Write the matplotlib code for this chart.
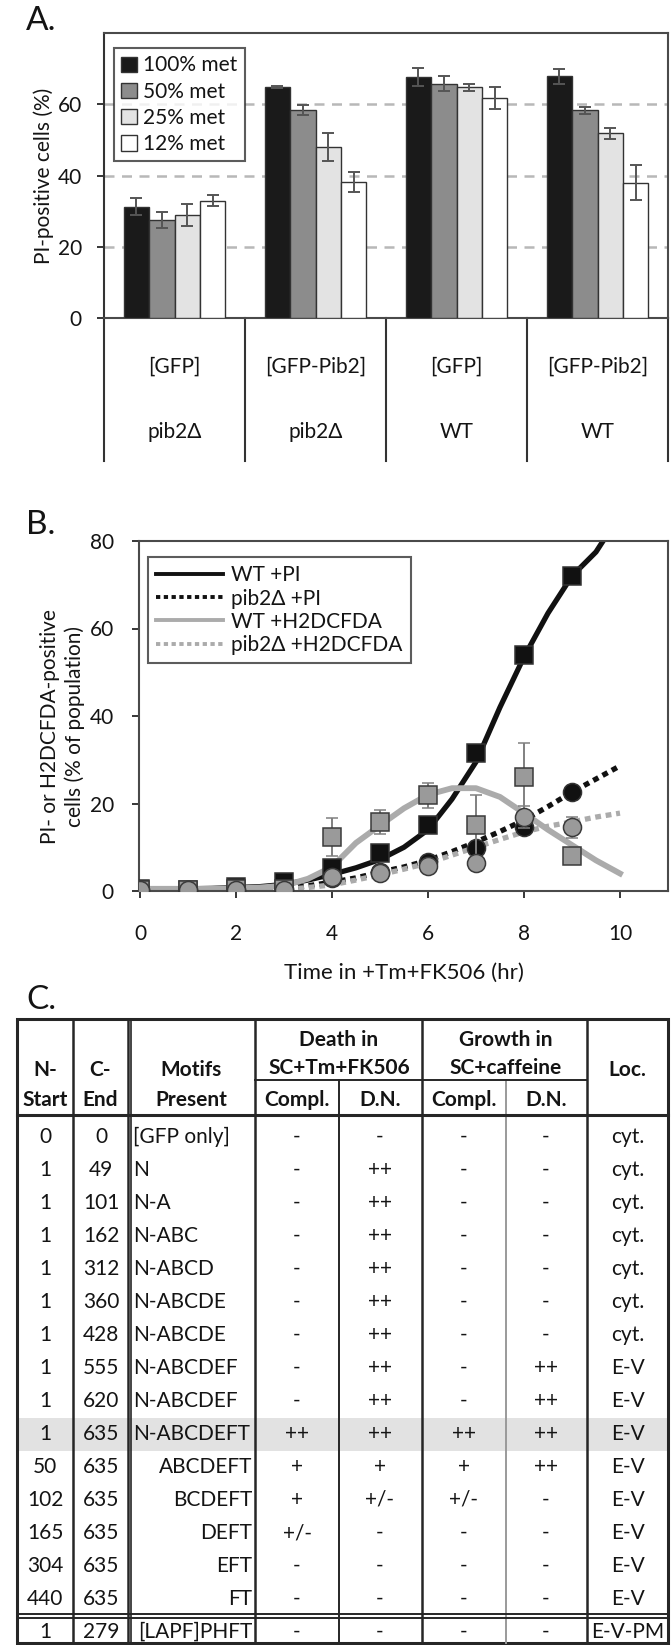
import matplotlib
matplotlib.use('Agg')
import matplotlib.pyplot as plt
from matplotlib.patches import Rectangle
import numpy as np

plt.rcParams['font.family'] = ['Lato', 'DejaVu Sans']
plt.rcParams['text.color'] = '#141414'

# ---------------- data: panel A ----------------
plasmids = ['[GFP]', '[GFP-Pib2]', '[GFP]', '[GFP-Pib2]']
genotypes = ['pib2Δ', 'pib2Δ', 'WT', 'WT']
met_labels = ['100% met', '50% met', '25% met', '12% met']
met100 = [31.2, 64.8, 67.6, 67.8]
met100_err = [2.4, 0.3, 2.6, 2.2]
met50 = [27.5, 58.3, 65.8, 58.3]
met50_err = [2.2, 1.4, 2.0, 0.9]
met25 = [28.9, 48.0, 64.8, 51.8]
met25_err = [3.1, 3.8, 1.0, 1.6]
met12 = [32.9, 38.2, 61.8, 38.0]
met12_err = [1.6, 2.7, 3.0, 4.9]
a_yticks = [0, 20, 40, 60]

# ---------------- data: panel B ----------------
time_h = [0, 1, 2, 3, 4, 5, 6, 7, 8, 9]
wt_pi = [0.5, 0.3, 1.0, 2.0, 5.2, 8.7, 15.0, 31.5, 54.0, 72.0]
wt_pi_err = [0.3, 0.3, 0.4, 0.5, 0.8, 1.0, 1.2, 1.5, 1.5, 1.5]
pib2_pi = [0.2, 0.2, 0.3, 0.4, 3.0, 4.4, 6.6, 9.8, 14.6, 22.6]
pib2_pi_err = [0.2, 0.2, 0.2, 0.3, 0.6, 0.8, 1.0, 1.2, 1.5, 1.5]
wt_h2 = [0.3, 0.3, 0.5, 0.5, 12.3, 15.8, 21.9, 15.0, 26.0, 8.0]
wt_h2_err = [0.3, 0.3, 0.3, 0.5, 4.3, 2.7, 2.9, 7.0, 7.8, 1.0]
pib2_h2 = [0.2, 0.2, 0.2, 0.3, 3.2, 4.1, 5.7, 6.4, 17.0, 14.6]
pib2_h2_err = [0.2, 0.2, 0.2, 0.2, 0.8, 0.8, 1.0, 1.0, 2.5, 2.4]

# fitted curves (every 0.5 h)
curve_x = [0, 0.5, 1, 1.5, 2, 2.5, 3, 3.5, 4, 4.5, 5, 5.5, 6, 6.5, 7, 7.5, 8, 8.5, 9, 9.5, 10]
wt_pi_fit = [0.5, 0.5, 0.5, 0.6, 0.8, 1.0, 1.5, 2.5, 3.8, 5.3, 7.2, 10.0, 14.0, 21.0, 29.5, 42.0,
             53.5, 63.5, 72.0, 77.5, 86.0]
pib2_pi_fit = [0.3, 0.3, 0.3, 0.3, 0.3, 0.3, 0.5, 1.2, 2.0, 3.0, 4.3, 5.5, 7.0, 9.0, 11.2, 13.6,
               16.2, 19.3, 22.6, 25.6, 28.6]
wt_h2_fit = [0.5, 0.5, 0.5, 0.5, 0.6, 0.8, 1.2, 2.8, 5.5, 11.0, 15.0, 18.9, 22.0, 23.5, 23.5, 21.5,
             17.8, 14.0, 10.5, 7.0, 4.0]
pib2_h2_fit = [0.2, 0.2, 0.2, 0.2, 0.2, 0.2, 0.3, 0.8, 1.4, 2.5, 3.7, 5.0, 6.4, 8.2, 10.0, 11.8,
               13.5, 14.8, 15.8, 16.9, 17.8]
b_xticks = [0, 2, 4, 6, 8, 10]
b_yticks = [0, 20, 40, 60, 80]
b_labels = ['WT +PI', 'pib2Δ +PI', 'WT +H2DCFDA', 'pib2Δ +H2DCFDA']

# ---------------- data: panel C ----------------
n_start = [0, 1, 1, 1, 1, 1, 1, 1, 1, 1, 50, 102, 165, 304, 440, 1]
c_end = [0, 49, 101, 162, 312, 360, 428, 555, 620, 635, 635, 635, 635, 635, 635, 279]
motifs = ['[GFP only]', 'N', 'N-A', 'N-ABC', 'N-ABCD', 'N-ABCDE', 'N-ABCDE', 'N-ABCDEF',
          'N-ABCDEF', 'N-ABCDEFT', 'ABCDEFT', 'BCDEFT', 'DEFT', 'EFT', 'FT', '[LAPF]PHFT']
death_compl = ['-', '-', '-', '-', '-', '-', '-', '-', '-', '++', '+', '+', '+/-', '-', '-', '-']
death_dn = ['-', '++', '++', '++', '++', '++', '++', '++', '++', '++', '+', '+/-', '-', '-', '-', '-']
growth_compl = ['-', '-', '-', '-', '-', '-', '-', '-', '-', '++', '+', '+/-', '-', '-', '-', '-']
growth_dn = ['-', '-', '-', '-', '-', '-', '-', '++', '++', '++', '++', '-', '-', '-', '-', '-']
loc = ['cyt.'] * 7 + ['E-V'] * 8 + ['E-V-PM']
highlight_row = 9

# ---------------- figure ----------------
W, H = 672, 1645
DPI = 100
fig = plt.figure(figsize=(W / DPI, H / DPI), dpi=DPI)
fig.patch.set_facecolor('white')


def rect(l, t, r, b):
    return [l / W, 1 - b / H, (r - l) / W, (b - t) / H]


FS = 15
TXT = '#141414'
SPINE = '#4a4a4a'

# ================= Panel A =================
axA = fig.add_axes(rect(104, 33, 668, 318))
n = len(plasmids)
centers = np.arange(n) + 0.5
bw = 0.18
series = [met100, met50, met25, met12]
errs = [met100_err, met50_err, met25_err, met12_err]
colors = ['#1a1a1a', '#8c8c8c', '#e3e3e3', '#ffffff']
for k in range(4):
    axA.bar(centers + (k - 1.5) * bw, series[k], bw, color=colors[k], edgecolor='#333333',
            linewidth=1.0, label=met_labels[k], zorder=3, yerr=errs[k],
            error_kw=dict(ecolor='#555555', elinewidth=1.4, capsize=4, capthick=1.4, zorder=4))
axA.set_xlim(0, n)
axA.set_ylim(0, 80)
axA.set_yticks(a_yticks)
axA.set_xticks([])
axA.grid(axis='y', color='#b8b8b8', lw=1.8, ls=(0, (4, 3)), zorder=1)
axA.tick_params(axis='y', length=5, width=1.2, pad=11, labelsize=FS, colors=TXT)
for s in axA.spines.values():
    s.set_color(SPINE)
    s.set_linewidth(1.5)
axA.spines['left'].set_color('#333333')
axA.text(-0.107, 0.5, 'PI-positive cells (%)', transform=axA.transAxes, rotation=90,
         ha='center', va='center', fontsize=FS, color=TXT)
legA = axA.legend(loc='upper left', bbox_to_anchor=(0.018, 0.947), fontsize=FS, frameon=True,
                  fancybox=False, edgecolor='#333333', handlelength=0.75, handleheight=0.75,
                  handletextpad=0.3, labelspacing=0.3, borderpad=0.35, borderaxespad=0)
legA.get_frame().set_linewidth(1.5)

# category table under panel A
xtr = axA.get_xaxis_transform()
for i in range(n + 1):
    axA.plot([i, i], [0, -0.5], transform=xtr, color='#333333', lw=1.5, clip_on=False)
for i in range(n):
    axA.text(centers[i], -0.17, plasmids[i], transform=xtr, ha='center', va='center',
             fontsize=FS, color=TXT, clip_on=False)
    axA.text(centers[i], -0.40, genotypes[i], transform=xtr, ha='center', va='center',
             fontsize=FS, color=TXT, clip_on=False)

# ================= Panel B =================
axB = fig.add_axes(rect(139, 541, 668, 891))
axB.set_xlim(-0.02, 11)
axB.set_ylim(0, 80)
l1, = axB.plot(curve_x, wt_pi_fit, color='#111111', lw=3.8, zorder=2)
l2, = axB.plot(curve_x, pib2_pi_fit, color='#111111', lw=3.8, ls=(0, (1.1, 0.9)), zorder=2)
l3, = axB.plot(curve_x, wt_h2_fit, color='#ababab', lw=4.2, zorder=2)
l4, = axB.plot(curve_x, pib2_h2_fit, color='#ababab', lw=3.8, ls=(0, (1.1, 0.9)), zorder=2)

mk = dict(markersize=13, markeredgewidth=1.1, capsize=4, elinewidth=1.4, capthick=1.4, ls='none')
axB.errorbar(time_h, wt_pi, yerr=wt_pi_err, fmt='s', color='#111111', mfc='#111111',
             mec='#333333', ecolor='#111111', zorder=3, **mk)
axB.errorbar(time_h, pib2_pi, yerr=pib2_pi_err, fmt='o', color='#111111', mfc='#111111',
             mec='#333333', ecolor='#111111', zorder=3, **mk)
axB.errorbar(time_h, wt_h2, yerr=wt_h2_err, fmt='s', color='#999999', mfc='#9a9a9a',
             mec='#3a3a3a', ecolor='#808080', zorder=4, **mk)
axB.errorbar(time_h, pib2_h2, yerr=pib2_h2_err, fmt='o', color='#999999', mfc='#9a9a9a',
             mec='#3a3a3a', ecolor='#808080', zorder=4, **mk)

axB.set_xticks(b_xticks)
axB.set_yticks(b_yticks)
axB.tick_params(axis='both', length=5, width=1.2, labelsize=FS, colors=TXT)
axB.tick_params(axis='y', pad=13)
axB.tick_params(axis='x', pad=19)
for s in axB.spines.values():
    s.set_color(SPINE)
    s.set_linewidth(1.5)
axB.text(-0.145, 0.47, 'PI- or H2DCFDA-positive\ncells (% of population)',
         transform=axB.transAxes, rotation=90, ha='center', va='center', fontsize=FS,
         linespacing=1.3, color=TXT)
axB.set_xlabel('Time in +Tm+FK506 (hr)', fontsize=16, color=TXT)
axB.xaxis.set_label_coords(0.5, -0.205)
legB = axB.legend([l1, l2, l3, l4], b_labels, loc='upper left', bbox_to_anchor=(0.017, 0.954),
                  fontsize=FS, frameon=True, fancybox=False, edgecolor='#333333',
                  handlelength=3.2, handletextpad=0.4, labelspacing=0.15, borderpad=0.4,
                  borderaxespad=0)
legB.get_frame().set_linewidth(1.5)
for h in legB.get_lines():
    h.set_linewidth(2.8)

# panel labels
fig.text(26 / W, 1 - 6 / H, 'A.', fontsize=24, va='top', ha='left', color=TXT)
fig.text(26 / W, 1 - 510 / H, 'B.', fontsize=24, va='top', ha='left', color=TXT)
fig.text(26 / W, 1 - 985 / H, 'C.', fontsize=24, va='top', ha='left', color=TXT)

# ================= Panel C (table) =================
ov = fig.add_axes([0, 0, 1, 1])
ov.set_xlim(0, W)
ov.set_ylim(H, 0)
ov.axis('off')
ov.patch.set_alpha(0)

cols = [17, 73, 128, 255, 339, 422, 506, 587, 668]
top, sub, hdr_bot, bot = 1019, 1080, 1115, 1643
row0, rh = 1137, 33
nrows = len(n_start)
dark = '#262626'

# highlight
hy = row0 + rh * highlight_row
ov.add_patch(Rectangle((cols[0], hy - rh / 2), cols[-1] - cols[0], rh, fc='#e2e2e2', ec='none', zorder=0))

# lines
ov.add_patch(Rectangle((cols[0], top), cols[-1] - cols[0], bot - top, fill=False, ec=dark, lw=2.2, zorder=3))
for x in [73, 128, 131, 255, 422, 587]:
    ov.plot([x, x], [top, bot], color=dark, lw=1.8 if x != 131 else 1.2, zorder=3)
ov.plot([339, 339], [sub, bot], color=dark, lw=1.4, zorder=3)
ov.plot([506, 506], [sub, bot], color='#9a9a9a', lw=1.4, zorder=3)
ov.plot([255, 587], [sub, sub], color=dark, lw=1.4, zorder=3)
ov.plot([cols[0], cols[-1]], [hdr_bot, hdr_bot], color=dark, lw=2.2, zorder=3)
dy = row0 + rh * (nrows - 1) - rh / 2
ov.plot([cols[0], cols[-1]], [dy - 2, dy - 2], color=dark, lw=1.4, zorder=3)
ov.plot([cols[0], cols[-1]], [dy + 2, dy + 2], color=dark, lw=1.4, zorder=3)

# header
hk = dict(ha='center', va='center', fontsize=FS, fontweight='bold', color=TXT)
ov.text(45, 1070, 'N-', **hk)
ov.text(45, 1100, 'Start', **hk)
ov.text(100, 1070, 'C-', **hk)
ov.text(100, 1100, 'End', **hk)
ov.text(191, 1070, 'Motifs', **hk)
ov.text(191, 1100, 'Present', **hk)
ov.text(339, 1040, 'Death in', **hk)
ov.text(339, 1068, 'SC+Tm+FK506', **hk)
ov.text(506, 1040, 'Growth in', **hk)
ov.text(506, 1068, 'SC+caffeine', **hk)
for xc, s in zip([297, 380, 464, 546], ['Compl.', 'D.N.', 'Compl.', 'D.N.']):
    ov.text(xc, 1100, s, **hk)
ov.text(627, 1070, 'Loc.', **hk)

# body
bk = dict(va='center', fontsize=FS, color=TXT)
for i in range(nrows):
    y = row0 + rh * i
    ov.text(45, y, str(n_start[i]), ha='center', **bk)
    ov.text(101, y, str(c_end[i]), ha='center', **bk)
    if i < 10:
        ov.text(133, y, motifs[i], ha='left', **bk)
    else:
        ov.text(252, y, motifs[i], ha='right', **bk)
    ov.text(297, y, death_compl[i], ha='center', **bk)
    ov.text(380, y, death_dn[i], ha='center', **bk)
    ov.text(464, y, growth_compl[i], ha='center', **bk)
    ov.text(546, y, growth_dn[i], ha='center', **bk)
    ov.text(628, y, loc[i], ha='center', **bk)

fig.savefig('out.png', dpi=DPI, facecolor='white')
